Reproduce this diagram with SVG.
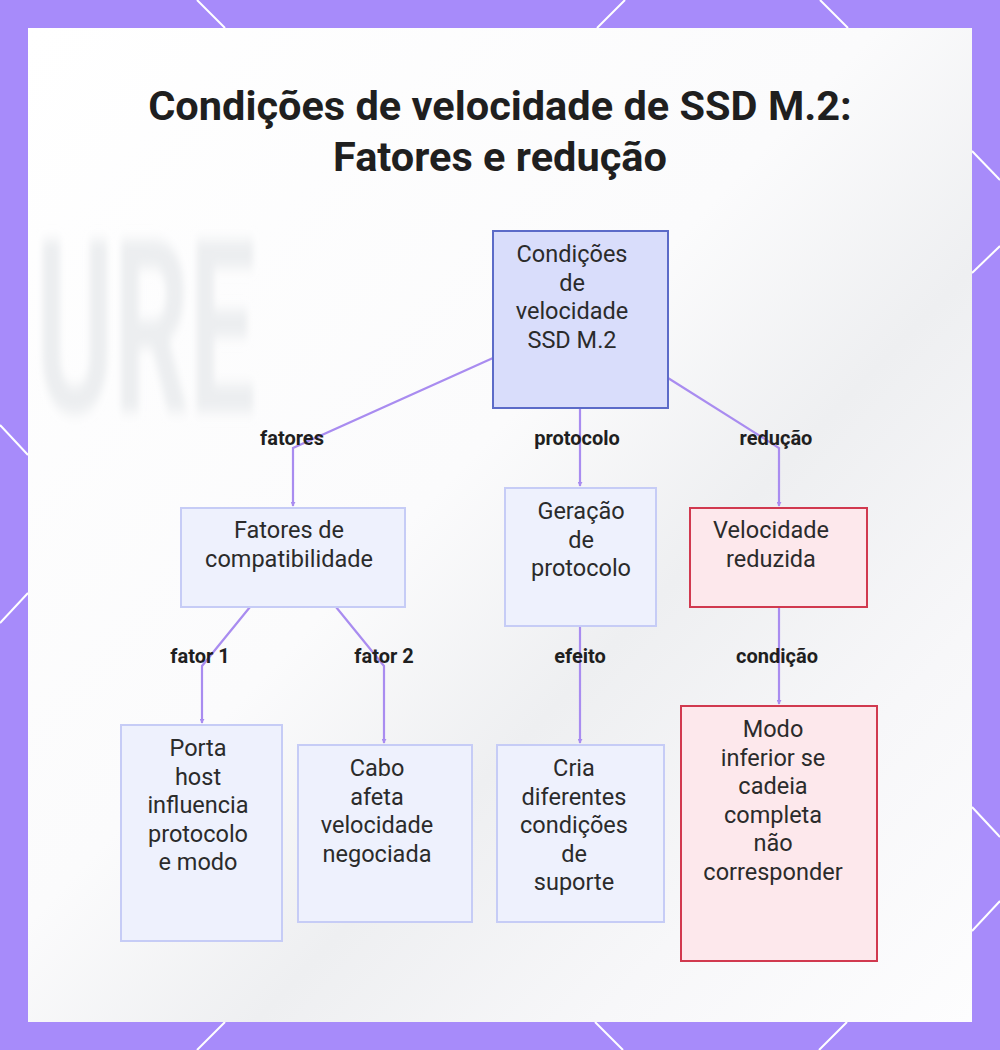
<svg xmlns="http://www.w3.org/2000/svg" width="1000" height="1050" viewBox="0 0 1000 1050">
<defs>
<style>
.title{font-family:Roboto,"Liberation Sans",sans-serif;font-weight:700;font-size:41.5px;fill:#1f1f1f;text-anchor:middle}
.nt{font-family:Roboto,"Liberation Sans",sans-serif;font-size:23.5px;fill:#2b2b2b;text-anchor:middle}
.el{font-family:Roboto,"Liberation Sans",sans-serif;font-weight:700;font-size:20px;fill:#1f1f1f;text-anchor:middle}
.main{fill:#d9ddfb;stroke:#5c6bc8;stroke-width:2}
.sub{fill:#eef1fd;stroke:#c6ccf6;stroke-width:2}
.red{fill:#fde8ec;stroke:#d1394f;stroke-width:2}
.edge{fill:none;stroke:#a98cf0;stroke-width:2.2}
.deco{stroke:#ffffff;stroke-width:2;fill:none}
</style>
<marker id="ah" viewBox="0 0 6 6" refX="5" refY="3" markerWidth="5" markerHeight="5" orient="auto" markerUnits="userSpaceOnUse">
<path d="M0,0 L6,3 L0,6 z" fill="#a98cf0"/>
</marker>
<linearGradient id="bg" x1="0" y1="0" x2="1" y2="1">
<stop offset="0" stop-color="#ffffff"/>
<stop offset="0.45" stop-color="#fbfbfc"/>
<stop offset="0.62" stop-color="#eeeff1"/>
<stop offset="0.8" stop-color="#f7f7f9"/>
<stop offset="1" stop-color="#fdfdfe"/>
</linearGradient>
<filter id="blur" x="-10%" y="-10%" width="120%" height="120%"><feGaussianBlur stdDeviation="3"/></filter>
</defs>
<rect x="0" y="0" width="1000" height="1050" fill="#a78bfa"/>
<g class="deco">
<path d="M197,0 L225,28"/><path d="M625,0 L597,28"/><path d="M820,0 L848,28"/>
<path d="M225,1022 L197,1050"/><path d="M595,1022 L623,1050"/><path d="M847,1022 L819,1050"/>
<path d="M0,425 L28,455"/><path d="M28,593 L0,623"/>
<path d="M972,151 L1000,180"/><path d="M972,273 L1000,246"/>
<path d="M972,807 L1000,837"/><path d="M972,931 L1000,901"/>
</g>
<rect x="28" y="28" width="944" height="994" fill="url(#bg)"/>
<text transform="translate(36,412) scale(1,2.05)" font-family="Roboto,'Liberation Sans',sans-serif" font-weight="700" font-size="118" fill="#eceef0" filter="url(#blur)">URE</text>
<text class="title" x="500" y="120">Condições de velocidade de SSD M.2:</text>
<text class="title" x="500" y="171">Fatores e redução</text>
<g id="connectors">
<path class="edge" d="M493,358 L293,448 L293,506" marker-end="url(#ah)"/>
<path class="edge" d="M580,408 L580,486" marker-end="url(#ah)"/>
<path class="edge" d="M668,378 L779,448 L779,506" marker-end="url(#ah)"/>
<path class="edge" d="M250,607 L202,666 L202,723" marker-end="url(#ah)"/>
<path class="edge" d="M336,607 L384,666 L384,743" marker-end="url(#ah)"/>
<path class="edge" d="M580,626 L580,743" marker-end="url(#ah)"/>
<path class="edge" d="M779,607 L779,704" marker-end="url(#ah)"/>
<text class="el" x="292" y="445">fatores</text>
<text class="el" x="577" y="445">protocolo</text>
<text class="el" x="776" y="445">redução</text>
<text class="el" x="200" y="663">fator 1</text>
<text class="el" x="384" y="663">fator 2</text>
<text class="el" x="580" y="663">efeito</text>
<text class="el" x="777" y="663">condição</text>
</g>
<g id="n-main">
<rect class="main" x="493" y="231" width="175" height="177"/>
<text class="nt" x="572" y="262">Condições</text>
<text class="nt" x="572" y="291">de</text>
<text class="nt" x="572" y="319">velocidade</text>
<text class="nt" x="572" y="348">SSD M.2</text>
</g>
<g id="n-fatores">
<rect class="sub" x="181" y="508" width="224" height="99"/>
<text class="nt" x="289" y="538">Fatores de</text>
<text class="nt" x="289" y="567">compatibilidade</text>
</g>
<g id="n-geracao">
<rect class="sub" x="505" y="488" width="151" height="138"/>
<text class="nt" x="581" y="519">Geração</text>
<text class="nt" x="581" y="548">de</text>
<text class="nt" x="581" y="576">protocolo</text>
</g>
<g id="n-reduzida">
<rect class="red" x="690" y="508" width="177" height="99"/>
<text class="nt" x="771" y="538">Velocidade</text>
<text class="nt" x="771" y="567">reduzida</text>
</g>
<g id="n-porta">
<rect class="sub" x="121" y="725" width="161" height="216"/>
<text class="nt" x="198" y="756">Porta</text>
<text class="nt" x="198" y="785">host</text>
<text class="nt" x="198" y="813">influencia</text>
<text class="nt" x="198" y="842">protocolo</text>
<text class="nt" x="198" y="870">e modo</text>
</g>
<g id="n-cabo">
<rect class="sub" x="298" y="745" width="174" height="177"/>
<text class="nt" x="377" y="776">Cabo</text>
<text class="nt" x="377" y="805">afeta</text>
<text class="nt" x="377" y="833">velocidade</text>
<text class="nt" x="377" y="862">negociada</text>
</g>
<g id="n-cria">
<rect class="sub" x="497" y="745" width="167" height="177"/>
<text class="nt" x="574" y="776">Cria</text>
<text class="nt" x="574" y="805">diferentes</text>
<text class="nt" x="574" y="833">condições</text>
<text class="nt" x="574" y="862">de</text>
<text class="nt" x="574" y="890">suporte</text>
</g>
<g id="n-modo">
<rect class="red" x="681" y="706" width="196" height="255"/>
<text class="nt" x="773" y="737">Modo</text>
<text class="nt" x="773" y="766">inferior se</text>
<text class="nt" x="773" y="794">cadeia</text>
<text class="nt" x="773" y="823">completa</text>
<text class="nt" x="773" y="851">não</text>
<text class="nt" x="773" y="880">corresponder</text>
</g>
</svg>
